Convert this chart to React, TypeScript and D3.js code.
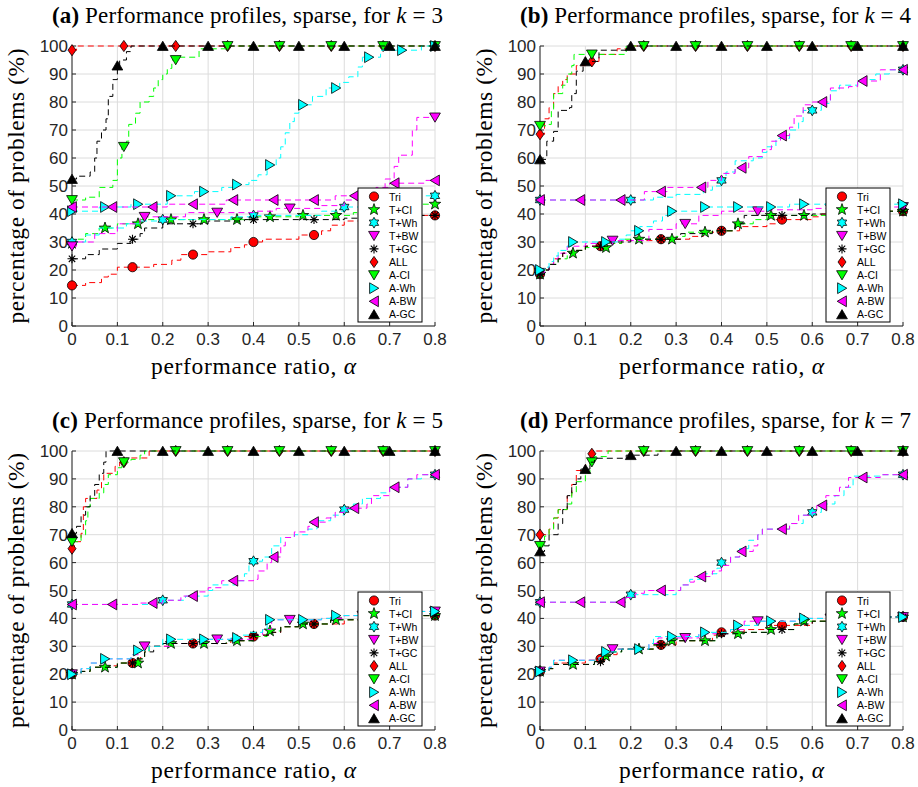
import React from "react";
import * as d3 from "d3";

// chart size
const W = 918;
const H = 787;
const X_MAX = 0.8;

const xTicks = [0, 0.1, 0.2, 0.3, 0.4, 0.5, 0.6, 0.7, 0.8];
const yTicks = [0, 10, 20, 30, 40, 50, 60, 70, 80, 90, 100];

const seriesNames = ["Tri", "T+CI", "T+Wh", "T+BW", "T+GC", "ALL", "A-CI", "A-Wh", "A-BW", "A-GC"];
const seriesColors = ["#ff0000", "#00ff00", "#00ffff", "#ff00ff", "#000000", "#ff0000", "#00ff00", "#00ffff", "#ff00ff", "#000000"];
const seriesMarkers = ["circle", "star", "hexagram", "down", "asterisk", "diamond", "down", "right", "left", "up"];
// how many markers each profile carries between 0 and 0.8
const markerCounts = [7, 12, 5, 6, 7, 8, 8, 12, 10, 9];

// ---- k = 3 : [alpha where the step starts, % of problems]
const k3Tri = [[0, 14.5], [0.03, 15.5], [0.065, 17.5], [0.08, 18.5], [0.1, 21], [0.18, 22], [0.22, 23.5], [0.24, 25.5], [0.3, 26.5], [0.35, 28], [0.38, 29], [0.4, 30], [0.42, 31], [0.5, 32.5], [0.55, 34], [0.57, 36], [0.6, 37.5], [0.7, 38.5], [0.73, 39.5]];
const k3TCI = [[0, 29.5], [0.01, 31], [0.03, 33], [0.06, 35], [0.1, 36.5], [0.15, 38], [0.4, 39], [0.5, 39.5], [0.62, 40.5], [0.7, 42], [0.75, 43.5]];
const k3TWh = [[0, 30], [0.03, 32.5], [0.06, 35], [0.12, 36.5], [0.15, 37.5], [0.2, 38], [0.35, 39], [0.4, 39.5], [0.55, 41], [0.6, 42.5], [0.7, 45], [0.75, 46.5]];
const k3TBW = [[0, 28.5], [0.01, 30], [0.05, 33], [0.1, 36.5], [0.15, 39], [0.25, 40.5], [0.4, 41], [0.45, 42], [0.55, 43], [0.6, 45], [0.65, 47], [0.69, 52.5], [0.71, 57], [0.72, 61], [0.75, 70], [0.76, 74.5]];
const k3TGC = [[0, 24], [0.03, 25.5], [0.06, 27.5], [0.1, 29.5], [0.13, 31], [0.15, 33], [0.16, 35], [0.2, 36.5], [0.3, 37.5], [0.38, 38], [0.6, 38.5], [0.65, 39.5]];
const k3ALL = [[0, 98.5], [0.01, 100]];
const k3ACI = [[0, 45], [0.03, 46], [0.06, 49.5], [0.09, 52], [0.1, 60], [0.11, 64], [0.12, 66], [0.125, 72], [0.14, 76], [0.15, 80], [0.17, 82], [0.18, 85], [0.19, 88], [0.2, 90], [0.21, 92], [0.22, 95], [0.23, 96], [0.28, 99], [0.34, 100]];
const k3AWh = [[0, 41], [0.06, 42.5], [0.13, 43.5], [0.21, 46.5], [0.27, 48], [0.33, 49.5], [0.36, 50.5], [0.39, 52], [0.41, 54], [0.43, 57.5], [0.45, 60], [0.46, 64], [0.47, 69], [0.48, 73], [0.49, 76], [0.5, 79], [0.53, 82], [0.56, 85], [0.59, 87], [0.61, 89], [0.63, 92.5], [0.64, 96], [0.68, 98.5], [0.77, 100]];
const k3ABW = [[0, 42.5], [0.21, 43.5], [0.34, 45], [0.58, 46.5], [0.64, 48], [0.67, 49.5], [0.7, 51], [0.78, 52]];
const k3AGC = [[0, 52.5], [0.01, 53.5], [0.04, 55], [0.05, 60], [0.055, 66], [0.065, 70], [0.075, 74], [0.08, 82], [0.09, 88], [0.1, 93], [0.105, 95], [0.12, 98], [0.13, 100]];

// ---- k = 4
const k4Tri = [[0, 18.5], [0.01, 20], [0.02, 22], [0.03, 24], [0.05, 26], [0.07, 27], [0.1, 28.5], [0.15, 29.5], [0.18, 30.5], [0.25, 31], [0.33, 32], [0.36, 33.5], [0.4, 34], [0.44, 35.5], [0.5, 36.5], [0.52, 38], [0.6, 39], [0.62, 40], [0.7, 41]];
const k4TCI = [[0, 18.5], [0.01, 20], [0.02, 22], [0.04, 24], [0.06, 26], [0.08, 27], [0.1, 28], [0.15, 29.5], [0.18, 31], [0.3, 32], [0.32, 33.5], [0.38, 34], [0.43, 36.5], [0.47, 38], [0.5, 39.5], [0.7, 40], [0.75, 41]];
const k4TWh = [[0, 45], [0.21, 45], [0.25, 46], [0.3, 47], [0.36, 48.5], [0.38, 50], [0.4, 52], [0.41, 55], [0.43, 59], [0.47, 60], [0.49, 62], [0.5, 64], [0.52, 67], [0.55, 70], [0.57, 73], [0.58, 77], [0.62, 79.5], [0.64, 84], [0.66, 86], [0.7, 88], [0.74, 90], [0.77, 91.5]];
const k4TBW = [[0, 19], [0.01, 20], [0.02, 22], [0.03, 24], [0.04, 26], [0.06, 28.5], [0.1, 29.5], [0.16, 30.5], [0.24, 34.5], [0.3, 36.5], [0.35, 39.5], [0.4, 41], [0.5, 41.5], [0.6, 42], [0.7, 42.5]];
const k4TGC = [[0, 18.5], [0.01, 20], [0.02, 22], [0.04, 24], [0.05, 26], [0.07, 27], [0.1, 28.5], [0.15, 30], [0.2, 31], [0.31, 33], [0.38, 34], [0.43, 36.5], [0.45, 39.5], [0.6, 40], [0.7, 41]];
const k4ALL = [[0, 68.5], [0.01, 74], [0.02, 78], [0.03, 83], [0.04, 86], [0.05, 88], [0.06, 90], [0.08, 93], [0.1, 94.5], [0.13, 97], [0.17, 99], [0.2, 100]];
const k4ACI = [[0, 71.5], [0.02, 72], [0.025, 77], [0.03, 83], [0.05, 86], [0.06, 90], [0.07, 93], [0.075, 97], [0.19, 100]];
const k4AWh = [[0, 20], [0.01, 21], [0.02, 23], [0.03, 25], [0.04, 27], [0.06, 28.5], [0.07, 30], [0.17, 31], [0.19, 32.5], [0.2, 34], [0.22, 35.5], [0.25, 37.5], [0.27, 39.5], [0.29, 41], [0.36, 42.5], [0.55, 43.5]];
const k4ABW = [[0, 45], [0.2, 45], [0.23, 48], [0.28, 49.5], [0.37, 52], [0.4, 54.5], [0.43, 56.5], [0.46, 60.5], [0.49, 63], [0.51, 66], [0.53, 68], [0.55, 71], [0.56, 75], [0.58, 79], [0.6, 80], [0.64, 85], [0.68, 85.5], [0.7, 87.5], [0.75, 91.5]];
const k4AGC = [[0, 59.5], [0.015, 66], [0.03, 69.5], [0.04, 77], [0.065, 78], [0.07, 83], [0.08, 91], [0.095, 94.5], [0.13, 98.5], [0.19, 100]];

// ---- k = 5
const k5Tri = [[0, 20], [0.02, 21], [0.04, 22.5], [0.08, 23], [0.1, 24], [0.15, 26], [0.16, 28], [0.17, 30], [0.22, 31], [0.35, 32], [0.38, 33.5], [0.42, 34], [0.44, 35], [0.46, 37], [0.5, 38], [0.6, 39.5], [0.7, 40.5], [0.75, 41]];
const k5TCI = [[0, 20], [0.02, 21], [0.04, 22.5], [0.1, 24], [0.15, 25.5], [0.16, 28], [0.17, 30], [0.2, 31], [0.34, 32], [0.4, 33.5], [0.43, 35.5], [0.46, 37], [0.5, 38], [0.57, 39.5], [0.7, 40.5], [0.75, 41]];
const k5TWh = [[0, 45], [0.19, 46.5], [0.25, 48], [0.3, 50], [0.31, 52], [0.36, 53.5], [0.38, 56], [0.39, 60.5], [0.42, 62], [0.44, 66], [0.46, 69], [0.49, 70], [0.52, 72], [0.54, 75], [0.57, 77], [0.6, 79], [0.62, 81], [0.64, 83], [0.68, 85], [0.7, 87], [0.74, 90], [0.77, 91.5]];
const k5TBW = [[0, 20], [0.02, 22], [0.04, 24], [0.07, 25.5], [0.13, 27], [0.15, 28.5], [0.16, 30], [0.22, 31], [0.3, 32.5], [0.4, 34], [0.42, 36], [0.44, 39.5], [0.55, 40], [0.6, 41], [0.75, 42.5]];
const k5TGC = [[0, 20], [0.02, 21], [0.04, 22.5], [0.1, 24], [0.14, 25.5], [0.16, 28], [0.18, 30], [0.2, 31], [0.34, 32], [0.4, 34], [0.44, 35], [0.46, 37], [0.5, 38], [0.57, 39.5], [0.7, 40.5], [0.75, 41]];
const k5ALL = [[0, 65], [0.005, 67.5], [0.02, 70.5], [0.025, 80], [0.03, 83], [0.055, 86], [0.065, 89.5], [0.07, 92], [0.095, 94.5], [0.105, 96], [0.12, 97.5], [0.17, 100]];
const k5ACI = [[0, 67.5], [0.02, 70], [0.03, 75], [0.035, 80], [0.04, 83], [0.06, 85], [0.07, 88], [0.08, 91.5], [0.1, 94], [0.11, 96], [0.13, 97], [0.15, 98.5], [0.16, 100]];
const k5AWh = [[0, 20], [0.02, 22], [0.04, 24], [0.07, 25.5], [0.13, 27], [0.14, 28.5], [0.17, 30], [0.2, 32.5], [0.35, 33], [0.37, 34], [0.39, 35], [0.42, 36], [0.43, 39.5], [0.55, 40], [0.57, 41], [0.7, 41.5], [0.75, 42.5]];
const k5ABW = [[0, 45], [0.15, 45.5], [0.2, 46.5], [0.24, 48], [0.27, 49.5], [0.3, 51], [0.33, 53.5], [0.4, 54], [0.41, 57], [0.43, 60], [0.44, 62], [0.46, 66], [0.47, 69], [0.49, 71], [0.52, 73], [0.53, 74.5], [0.56, 76], [0.58, 78], [0.6, 79.5], [0.65, 81], [0.66, 84], [0.7, 87], [0.74, 90], [0.76, 91.5]];
const k5AGC = [[0, 70.5], [0.01, 73], [0.02, 77], [0.03, 80], [0.04, 84], [0.05, 88], [0.06, 92], [0.07, 96], [0.075, 100]];

// ---- k = 7
const k7Tri = [[0, 21], [0.02, 22], [0.03, 24], [0.1, 25], [0.13, 25.5], [0.15, 27], [0.17, 29], [0.25, 30.5], [0.3, 32], [0.38, 34], [0.4, 35], [0.45, 36], [0.5, 37.5], [0.6, 39], [0.7, 40.5]];
const k7TCI = [[0, 21], [0.02, 22], [0.03, 23.5], [0.12, 24.5], [0.14, 26.5], [0.16, 28], [0.18, 29], [0.25, 30.5], [0.28, 32], [0.39, 34.5], [0.45, 35], [0.5, 36], [0.56, 38], [0.58, 39], [0.7, 40.5]];
const k7TWh = [[0, 45.8], [0.19, 47.5], [0.2, 48.5], [0.3, 50], [0.31, 52], [0.33, 54], [0.36, 56], [0.39, 58], [0.4, 60], [0.42, 62], [0.44, 65], [0.46, 68], [0.48, 70], [0.49, 72], [0.55, 74], [0.58, 77], [0.6, 78], [0.62, 81], [0.65, 84], [0.67, 87], [0.69, 91], [0.75, 91.5]];
const k7TBW = [[0, 21], [0.02, 22.5], [0.03, 25], [0.13, 26], [0.14, 28], [0.16, 29], [0.24, 31], [0.26, 33], [0.35, 34.5], [0.42, 36], [0.45, 39], [0.57, 40], [0.7, 40.5]];
const k7TGC = [[0, 21], [0.02, 22], [0.03, 23.5], [0.12, 24.5], [0.14, 26.5], [0.16, 28], [0.18, 29], [0.25, 30.5], [0.28, 32], [0.39, 34.5], [0.45, 35], [0.5, 36], [0.56, 38], [0.6, 39], [0.7, 40.5]];
const k7ALL = [[0, 70], [0.02, 72], [0.03, 76], [0.04, 79], [0.06, 84], [0.07, 88], [0.08, 93], [0.1, 95], [0.11, 99], [0.12, 100]];
const k7ACI = [[0, 66], [0.01, 69.5], [0.02, 72], [0.03, 76], [0.04, 79], [0.06, 81], [0.07, 85], [0.08, 89], [0.1, 92], [0.11, 96], [0.12, 98], [0.15, 100]];
const k7AWh = [[0, 21], [0.02, 22.5], [0.03, 25], [0.13, 26], [0.14, 28], [0.17, 29], [0.24, 31], [0.25, 33.5], [0.35, 35], [0.42, 36], [0.43, 37.5], [0.48, 39], [0.57, 40], [0.7, 40.5]];
const k7ABW = [[0, 45.8], [0.19, 47.5], [0.21, 49], [0.23, 50], [0.31, 52], [0.33, 53], [0.34, 55], [0.38, 57], [0.4, 59], [0.42, 62], [0.44, 64], [0.47, 66], [0.48, 70], [0.49, 72], [0.55, 74], [0.57, 77], [0.6, 78], [0.61, 80.5], [0.63, 84], [0.66, 87], [0.68, 90.5], [0.75, 91.5]];
const k7AGC = [[0, 64], [0.01, 66], [0.02, 70], [0.04, 74], [0.05, 79], [0.06, 84], [0.07, 88], [0.08, 90], [0.09, 93.5], [0.11, 96], [0.12, 97.4], [0.19, 98.5], [0.26, 100]];

const panels = [
  { tag: "(a)", k: "3", left: 72, top: 46, right: 435, bottom: 326, steps: [k3Tri, k3TCI, k3TWh, k3TBW, k3TGC, k3ALL, k3ACI, k3AWh, k3ABW, k3AGC] },
  { tag: "(b)", k: "4", left: 540, top: 46, right: 903, bottom: 326, steps: [k4Tri, k4TCI, k4TWh, k4TBW, k4TGC, k4ALL, k4ACI, k4AWh, k4ABW, k4AGC] },
  { tag: "(c)", k: "5", left: 72, top: 451, right: 435, bottom: 730, steps: [k5Tri, k5TCI, k5TWh, k5TBW, k5TGC, k5ALL, k5ACI, k5AWh, k5ABW, k5AGC] },
  { tag: "(d)", k: "7", left: 540, top: 451, right: 903, bottom: 730, steps: [k7Tri, k7TCI, k7TWh, k7TBW, k7TGC, k7ALL, k7ACI, k7AWh, k7ABW, k7AGC] },
];

const SERIF = "'Liberation Serif', 'DejaVu Serif', serif";
const SANS = "'Liberation Sans', Arial, Helvetica, sans-serif";
const AXIS = "#262626";

function starPath(n: number, R: number, r: number) {
  const pts: string[] = [];
  for (let i = 0; i < n * 2; i++) {
    const a = -Math.PI / 2 + (i * Math.PI) / n;
    const rad = i % 2 === 0 ? R : r;
    pts.push(`${(rad * Math.cos(a)).toFixed(2)},${(rad * Math.sin(a)).toFixed(2)}`);
  }
  return "M" + pts.join("L") + "Z";
}

function Marker({ shape, color, x, y }: { shape: string; color: string; x: number; y: number }) {
  const common = { fill: color, stroke: "#000", strokeWidth: 0.8 };
  const t = `translate(${x},${y})`;
  if (shape === "circle") return <circle cx={x} cy={y} r={4.6} {...common} />;
  if (shape === "up") return <path transform={t} d="M0,-4.8L5.4,4.4L-5.4,4.4Z" {...common} />;
  if (shape === "down") return <path transform={t} d="M0,4.8L5.4,-4.4L-5.4,-4.4Z" {...common} />;
  if (shape === "right") return <path transform={t} d="M4.8,0L-4.4,5.4L-4.4,-5.4Z" {...common} />;
  if (shape === "left") return <path transform={t} d="M-4.8,0L4.4,5.4L4.4,-5.4Z" {...common} />;
  if (shape === "diamond") return <path transform={t} d="M0,-5.6L4,0L0,5.6L-4,0Z" {...common} />;
  if (shape === "star") return <path transform={t} d={starPath(5, 6, 2.4)} {...common} />;
  if (shape === "hexagram") return <path transform={t} d={starPath(6, 5.4, 3.1)} {...common} />;
  // asterisk: plus and cross, no fill
  return (
    <path transform={t} d="M-4.5,0L4.5,0M0,-4.5L0,4.5M-3.2,-3.2L3.2,3.2M-3.2,3.2L3.2,-3.2" stroke={color} strokeWidth={1.1} fill="none" />
  );
}

function valueAt(steps: number[][], a: number) {
  const i = d3.bisector((d: number[]) => d[0]).right(steps, a + 1e-9) - 1;
  return steps[Math.max(0, i)][1];
}

function Panel({ p }: { p: (typeof panels)[number] }) {
  const x = d3.scaleLinear().domain([0, X_MAX]).range([p.left, p.right]);
  const y = d3.scaleLinear().domain([0, 100]).range([p.bottom, p.top]);
  const line = d3
    .line<number[]>()
    .x((d) => x(d[0]))
    .y((d) => y(d[1]))
    .curve(d3.curveStepAfter);
  const cx = (p.left + p.right) / 2;
  const cy = (p.top + p.bottom) / 2;
  const legW = 64;
  const legH = 134;
  const legX = p.right - 13 - legW;
  const legY = p.bottom - 4 - legH;

  return (
    <g>
      <text x={cx - 6} y={p.top - 23} textAnchor="middle" fontFamily={SERIF} fontSize={23} fill="#000" textLength={391} lengthAdjust="spacing">
        <tspan fontWeight="bold">{p.tag}</tspan> Performance profiles, sparse, for <tspan fontStyle="italic">k</tspan> = {p.k}
      </text>
      {/* grid */}
      {xTicks.map((t) => (
        <line key={"gx" + t} x1={x(t)} x2={x(t)} y1={p.top} y2={p.bottom} stroke="#dcdcdc" strokeWidth={1} />
      ))}
      {yTicks.map((t) => (
        <line key={"gy" + t} x1={p.left} x2={p.right} y1={y(t)} y2={y(t)} stroke="#dcdcdc" strokeWidth={1} />
      ))}
      {/* axes and inner ticks */}
      <line x1={p.left} x2={p.left} y1={p.top} y2={p.bottom} stroke={AXIS} strokeWidth={1} />
      <line x1={p.left} x2={p.right} y1={p.bottom} y2={p.bottom} stroke={AXIS} strokeWidth={1} />
      {xTicks.map((t) => (
        <line key={"tx" + t} x1={x(t)} x2={x(t)} y1={p.bottom} y2={p.bottom - 4} stroke={AXIS} />
      ))}
      {yTicks.map((t) => (
        <line key={"ty" + t} x1={p.left} x2={p.left + 4} y1={y(t)} y2={y(t)} stroke={AXIS} />
      ))}
      {xTicks.map((t) => (
        <text key={"lx" + t} x={x(t)} y={p.bottom + 19} textAnchor="middle" fontFamily={SANS} fontSize={17} fill={AXIS}>
          {d3.format("")(t)}
        </text>
      ))}
      {yTicks.map((t) => (
        <text key={"ly" + t} x={p.left - 4} y={y(t) + 6} textAnchor="end" fontFamily={SANS} fontSize={17} fill={AXIS}>
          {t}
        </text>
      ))}
      <text x={cx} y={p.bottom + 48} textAnchor="middle" fontFamily={SERIF} fontSize={23.5} fill="#000" textLength={205} lengthAdjust="spacing">
        performance ratio, <tspan fontStyle="italic">α</tspan>
      </text>
      <text transform={`translate(${p.left - 48},${cy}) rotate(-90)`} textAnchor="middle" fontFamily={SERIF} fontSize={23.5} fill="#000" textLength={275} lengthAdjust="spacing">
        percentage of problems (%)
      </text>
      {/* profiles */}
      {p.steps.map((s, i) => {
        const pts = s.concat([[X_MAX, s[s.length - 1][1]]]);
        const n = markerCounts[i];
        const mx = d3.range(n).map((j) => (j * X_MAX) / (n - 1));
        return (
          <g key={seriesNames[i]}>
            <path d={line(pts) || ""} fill="none" stroke={seriesColors[i]} strokeWidth={1} strokeDasharray="6,4" />
            {mx.map((a, j) => (
              <Marker key={j} shape={seriesMarkers[i]} color={seriesColors[i]} x={x(a)} y={y(valueAt(s, a))} />
            ))}
          </g>
        );
      })}
      {/* legend */}
      <rect x={legX} y={legY} width={legW} height={legH} fill="#fff" stroke="#000" strokeWidth={1} />
      {seriesNames.map((name, i) => {
        const ly = legY + 8.5 + i * 13.1;
        return (
          <g key={"leg" + name}>
            <Marker shape={seriesMarkers[i]} color={seriesColors[i]} x={legX + 16} y={ly} />
            <text x={legX + 31} y={ly + 4} fontFamily={SANS} fontSize={10.5} fill="#000">
              {name}
            </text>
          </g>
        );
      })}
    </g>
  );
}

export default function App() {
  return (
    <svg width={W} height={H} style={{ position: "absolute", left: 0, top: 0, background: "#fff" }}>
      <rect width={W} height={H} fill="#fff" />
      {panels.map((p) => (
        <Panel key={p.tag} p={p} />
      ))}
    </svg>
  );
}
